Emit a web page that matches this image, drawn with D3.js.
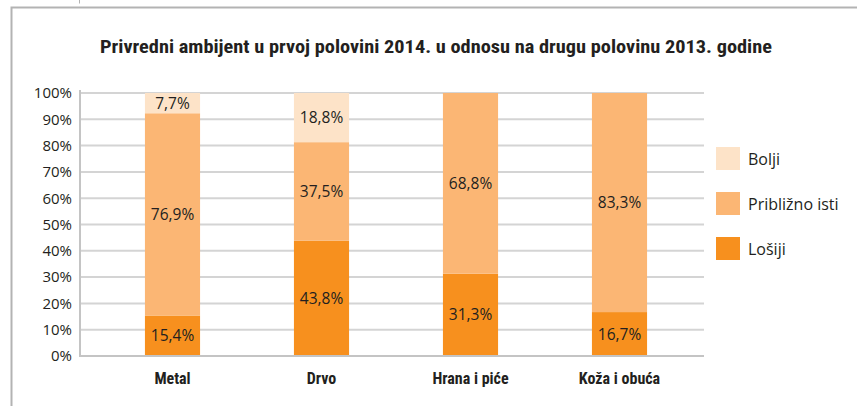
<!DOCTYPE html>
<html>
<head>
<meta charset="utf-8">
<script src="https://cdn.jsdelivr.net/npm/d3@7"></script>
<style>
  html, body { margin: 0; padding: 0; background: #fff; }
  svg { display: block; }
</style>
</head>
<body>
<svg id="chart" width="857" height="406"></svg>
<script>
// Chart data
const categories = ["Metal", "Drvo", "Hrana i piće", "Koža i obuća"];
const seriesNames = ["Lošiji", "Približno isti", "Bolji"];
const losiji = [15.4, 43.8, 31.3, 16.7];
const priblizno = [76.9, 37.5, 68.8, 83.3];
const bolji = [7.7, 18.8, 0, 0];
const yTicks = [0, 10, 20, 30, 40, 50, 60, 70, 80, 90, 100];
const title = "Privredni ambijent u prvoj polovini 2014. u odnosu na drugu polovinu 2013. godine";

const colors = { "Lošiji": "#f7901e", "Približno isti": "#fbb674", "Bolji": "#fde3c8" };
const seriesValues = { "Lošiji": losiji, "Približno isti": priblizno, "Bolji": bolji };

const svg = d3.select("#chart");
const fmt = v => d3.format(".1f")(v).replace(".", ",") + "%";

// Outer frame
svg.append("path")
  .attr("d", "M11.5,406 L11.5,7.5 L857,7.5")
  .attr("fill", "none").attr("stroke", "#b3b3b3").attr("stroke-width", 2);
svg.append("line").attr("x1", 79.5).attr("x2", 79.5).attr("y1", 0).attr("y2", 3.5)
  .attr("stroke", "#b3b3b3").attr("stroke-width", 1);

// Title
svg.append("text")
  .attr("x", 436).attr("y", 53)
  .attr("text-anchor", "middle")
  .attr("font-family", "'Liberation Sans Narrow', 'Roboto Condensed', 'Roboto', sans-serif")
  .attr("font-weight", "bold")
  .attr("font-size", 18)
  .attr("fill", "#231f20")
  .attr("textLength", 672).attr("lengthAdjust", "spacingAndGlyphs")
  .text(title);

const plot = { left: 80, right: 704, top: 93, bottom: 356 };

const y = d3.scaleLinear().domain([0, 100]).range([plot.bottom, plot.top]);
const x = d3.scaleBand().domain(categories).range([98, 694]).paddingInner(0.63).paddingOuter(0.315);

// Gridlines
svg.append("g").selectAll("line").data(yTicks.filter(t => t > 0)).join("line")
  .attr("x1", plot.left).attr("x2", plot.right)
  .attr("y1", d => y(d)).attr("y2", d => y(d))
  .attr("stroke", "#d4d4d4").attr("stroke-width", 2);

// Y axis via d3.axisLeft
const yAxis = svg.append("g")
  .attr("transform", `translate(${plot.left},0)`)
  .call(d3.axisLeft(y).tickValues(yTicks).tickFormat(d => d + "%").tickSize(0).tickPadding(8));
yAxis.select(".domain").remove();
yAxis.selectAll("text")
  .attr("font-family", "'Open Sans', 'Noto Sans', sans-serif")
  .attr("font-size", 15).attr("fill", "#231f20");

// Stacked bars
const rows = categories.map((c, i) => {
  const r = { cat: c };
  seriesNames.forEach(s => r[s] = seriesValues[s][i]);
  return r;
});
const stack = d3.stack().keys(seriesNames)(rows);

const layers = svg.append("g").selectAll("g").data(stack).join("g")
  .attr("fill", d => colors[d.key]);
layers.selectAll("rect").data(d => d).join("rect")
  .attr("x", d => x(d.data.cat))
  .attr("width", x.bandwidth())
  .attr("y", d => y(Math.min(d[1], 100)))
  .attr("height", d => Math.max(0, y(d[0]) - y(Math.min(d[1], 100))));

// Value labels
const labelData = [];
stack.forEach(layer => layer.forEach(d => {
  const v = d.data[layer.key];
  if (v > 0) labelData.push({ cat: d.data.cat, v, mid: (d[0] + Math.min(d[1], 100)) / 2 });
}));
svg.append("g").selectAll("text").data(labelData).join("text")
  .attr("x", d => x(d.cat) + x.bandwidth() / 2)
  .attr("y", d => y(d.mid))
  .attr("dy", "0.36em")
  .attr("text-anchor", "middle")
  .attr("font-family", "'Open Sans', 'Noto Sans', sans-serif")
  .attr("font-size", 15.5).attr("fill", "#231f20")
  .text(d => fmt(d.v));

// Axis lines
svg.append("line").attr("x1", plot.left).attr("x2", plot.left)
  .attr("y1", plot.top - 3).attr("y2", plot.bottom + 1)
  .attr("stroke", "#c4c4c4").attr("stroke-width", 2);
svg.append("line").attr("x1", plot.left).attr("x2", plot.right)
  .attr("y1", plot.bottom).attr("y2", plot.bottom)
  .attr("stroke", "#c4c4c4").attr("stroke-width", 2);

// Category labels
const xAxis = svg.append("g")
  .attr("transform", `translate(0,${plot.bottom})`)
  .call(d3.axisBottom(x).tickSize(0).tickPadding(17));
xAxis.select(".domain").remove();
xAxis.selectAll("text")
  .attr("font-family", "'Liberation Sans Narrow', 'Roboto Condensed', 'Roboto', sans-serif")
  .attr("font-weight", "bold")
  .attr("font-size", 16).attr("fill", "#231f20");

// Legend
const legendItems = ["Bolji", "Približno isti", "Lošiji"];
const legend = svg.append("g").selectAll("g").data(legendItems).join("g")
  .attr("transform", (d, i) => `translate(716,${147 + i * 45})`);
legend.append("rect").attr("width", 24).attr("height", 23).attr("fill", d => colors[d]);
legend.append("text")
  .attr("x", 32).attr("y", 12).attr("dy", "0.36em")
  .attr("font-family", "'Open Sans', 'Noto Sans', sans-serif")
  .attr("font-size", 16).attr("fill", "#231f20")
  .text(d => d);
</script>
</body>
</html>
